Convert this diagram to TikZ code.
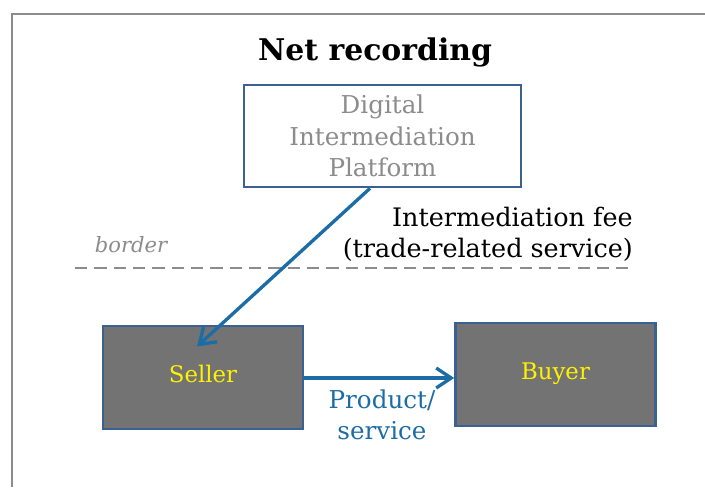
\documentclass[tikz,border=0pt]{standalone}
\usepackage{fontspec}
\setmainfont{DejaVu Serif}
\usetikzlibrary{arrows.meta}

\definecolor{boxblue}{HTML}{3A6192}
\definecolor{flowblue}{HTML}{1C6DA6}
\definecolor{boxgray}{HTML}{737373}
\definecolor{labelgray}{HTML}{8C8C8C}

\begin{document}
\begin{tikzpicture}[x=0.02cm,y=-0.02cm,
  every node/.style={font=\fontsize{14}{18}\selectfont},
  agent/.style={draw=boxblue,line width=1.5pt,fill=boxgray,text=yellow,
    font=\fontsize{13}{15}\selectfont,text height=1.55ex,text depth=0.45ex,
    minimum width=4cm,minimum height=2.06cm},
  platform/.style={draw=boxblue,line width=1.5pt,fill=white,text=labelgray,
    align=center,minimum width=5.54cm,minimum height=2.04cm},
  flow/.style={draw=flowblue,line width=1.9pt,-{Straight Barb[length=3mm,width=4mm]}}]
  \useasboundingbox (0,0) rectangle (705,487);
  % frame
  \draw[labelgray,line width=1.2pt] (12,487) -- (12,14) -- (705,14);

  \node[font=\fontsize{17}{20}\selectfont\bfseries] (title) at (375,52) {Net recording};
  \node[platform] (plat) at (382.5,136) {Digital\\Intermediation\\Platform};

  % border line
  \node[text=labelgray,font=\fontsize{12}{15}\selectfont\itshape] (bordertxt) at (131,245) {border};
  \draw[labelgray,line width=1pt,dash pattern=on 7pt off 4pt] (75,268) -- (632,268);

  \node[agent] (seller) at (203,377.5) {Seller};
  \node[agent] (buyer) at (555.5,374.5) {Buyer};

  \draw[flow] ([xshift=-0.25cm]plat.south) -- ([xshift=-0.12cm,yshift=0.62cm]seller.center);
  \node[align=right,anchor=east,font=\fontsize{14.5}{17.5}\selectfont] (fee) at (639,234)
    {Intermediation fee\\(trade-related service)};

  \draw[flow] (seller.east |- 0,378) -- (buyer.west |- 0,378);
  \node[text=flowblue,align=center] (product) at (382,415) {Product/\\service};
\end{tikzpicture}
\end{document}
